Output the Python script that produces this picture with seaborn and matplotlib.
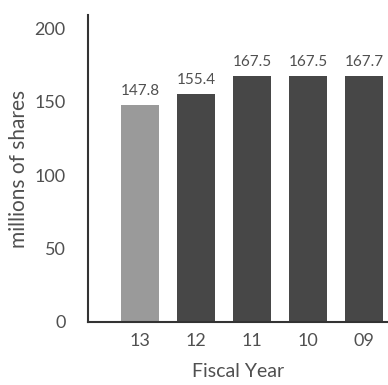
import pandas as pd
import seaborn as sns
import matplotlib.pyplot as plt

sns.set_theme(style="white")
plt.rcParams['font.family'] = ['Lato', 'DejaVu Sans']

years = ["13", "12", "11", "10", "09"]
shares = [147.8, 155.4, 167.5, 167.5, 167.7]
bar_colors = ["#9a9a9a", "#474747", "#474747", "#474747", "#474747"]

df = pd.DataFrame({"year": years, "shares": shares})

fig = plt.figure(figsize=(3.88, 3.85), dpi=100)
ax = fig.add_axes([88 / 388, 1 - 322 / 385, 300 / 388, 307 / 385])

sns.barplot(data=df, x="year", y="shares", hue="year", palette=bar_colors,
            width=0.67, legend=False, linewidth=0, ax=ax)

txt = "#505050"
for i, v in enumerate(shares):
    ax.annotate(f"{v:.1f}", (i, v), xytext=(0, 5), textcoords="offset points",
                ha="center", va="bottom", fontsize=11, color=txt)

ax.set_xlim(-0.93, 4.43)
ax.set_ylim(0, 209)
ax.set_yticks([0, 50, 100, 150, 200])
ax.tick_params(axis="both", labelsize=13, labelcolor=txt, length=0, pad=16)
ax.tick_params(axis="x", pad=8)
ax.set_xlabel("Fiscal Year", fontsize=14, color=txt, labelpad=10)
ax.set_ylabel("millions of shares", fontsize=15, color=txt, labelpad=4)

sns.despine(ax=ax, top=True, right=True)
ax.spines["left"].set_color("#333333")
ax.spines["bottom"].set_color("#333333")
ax.spines["left"].set_linewidth(1.5)
ax.spines["bottom"].set_linewidth(1.5)

fig.savefig("out.png", dpi=100)
